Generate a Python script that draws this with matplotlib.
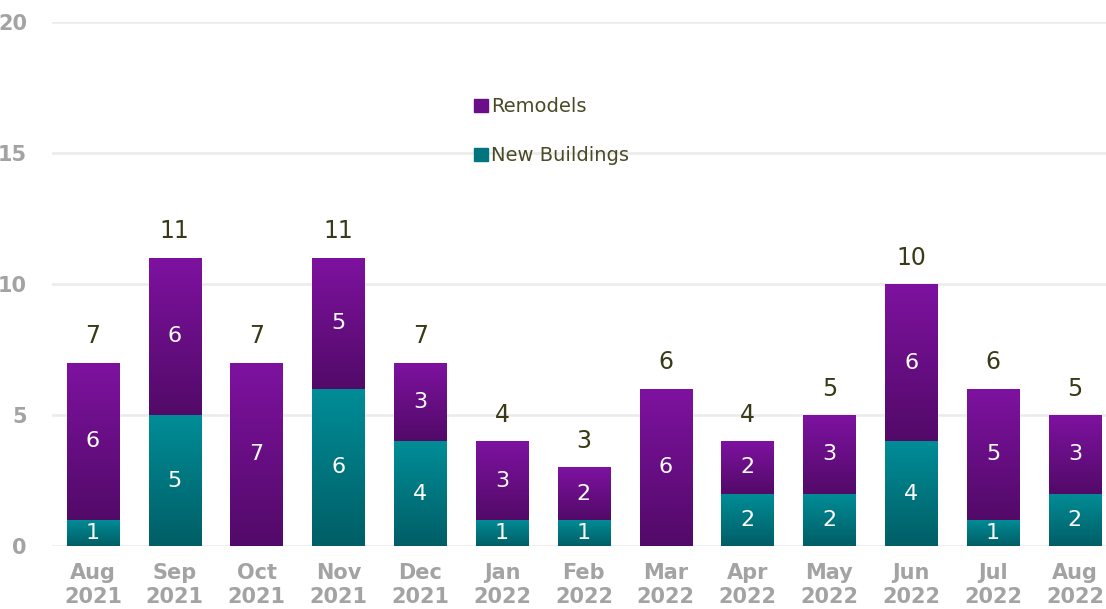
import numpy as np
import matplotlib
matplotlib.use('Agg')
import matplotlib.pyplot as plt
import matplotlib.patches as patches
from matplotlib.colors import LinearSegmentedColormap

months = ['Aug\n2021', 'Sep\n2021', 'Oct\n2021', 'Nov\n2021', 'Dec\n2021',
          'Jan\n2022', 'Feb\n2022', 'Mar\n2022', 'Apr\n2022', 'May\n2022',
          'Jun\n2022', 'Jul\n2022', 'Aug\n2022']
new_buildings = [1, 5, 0, 6, 4, 1, 1, 0, 2, 2, 4, 1, 2]
remodels = [6, 6, 7, 5, 3, 3, 2, 6, 2, 3, 6, 5, 3]

teal_cmap = LinearSegmentedColormap.from_list('teal', ['#005E66', '#008D97'])
purple_cmap = LinearSegmentedColormap.from_list('purple', ['#520A68', '#7E12A0'])
grad = np.linspace(0, 1, 256).reshape(-1, 1)

fig = plt.figure(figsize=(11.06, 6.09), dpi=100)
ax = fig.add_axes([0.047, 0.1034, 0.953, 0.8605])

x = np.arange(len(months))
width = 0.64
totals = [n + r for n, r in zip(new_buildings, remodels)]

bars_new = ax.bar(x, new_buildings, width, color='none', zorder=2)
bars_rem = ax.bar(x, remodels, width, bottom=new_buildings, color='none', zorder=2)


def fill_gradient(bars, cmap):
    for b in bars:
        if b.get_height() <= 0:
            continue
        x0, y0 = b.get_x(), b.get_y()
        im = ax.imshow(grad, cmap=cmap, origin='lower', aspect='auto',
                       extent=(x0, x0 + b.get_width(), y0, y0 + b.get_height()),
                       zorder=2, interpolation='bilinear')
        im.set_clip_path(b)


fill_gradient(bars_new, teal_cmap)
fill_gradient(bars_rem, purple_cmap)

# segment labels
for i in range(len(x)):
    if new_buildings[i] > 0:
        ax.text(x[i], new_buildings[i] / 2, str(new_buildings[i]), ha='center',
                va='center', color='white', fontsize=16, zorder=3)
    if remodels[i] > 0:
        ax.text(x[i], new_buildings[i] + remodels[i] / 2, str(remodels[i]),
                ha='center', va='center', color='white', fontsize=16, zorder=3)
    ax.annotate(str(totals[i]), (x[i], totals[i]), xytext=(0, 19),
                textcoords='offset points', ha='center', va='center',
                color='#3A3A18', fontsize=17)

ax.set_xlim(-0.5, 12.38)
ax.set_ylim(0, 20)
ax.set_yticks([0, 5, 10, 15, 20])
ax.yaxis.grid(True, color='#EBEBEB', linewidth=1.8, zorder=0)
ax.set_axisbelow(True)
for s in ax.spines.values():
    s.set_visible(False)
ax.tick_params(axis='both', length=0, colors='#A3A3A3', labelsize=15)
ax.tick_params(axis='y', pad=18)
ax.tick_params(axis='x', pad=12)
ax.set_xticks(x)
ax.set_xticklabels(months, fontweight='bold', linespacing=1.3)
for lbl in ax.get_yticklabels():
    lbl.set_fontweight('bold')

handles = [patches.Patch(color='#6A0F87', label='Remodels'),
           patches.Patch(color='#00757E', label='New Buildings')]
leg = ax.legend(handles=handles, loc='upper left', bbox_to_anchor=(0.384, 0.89),
                frameon=False, fontsize=14, handlelength=0.7, handleheight=0.7,
                handletextpad=0.15, labelspacing=1.55)
for t in leg.get_texts():
    t.set_color('#4A4A26')

fig.savefig('out.png', dpi=100)
